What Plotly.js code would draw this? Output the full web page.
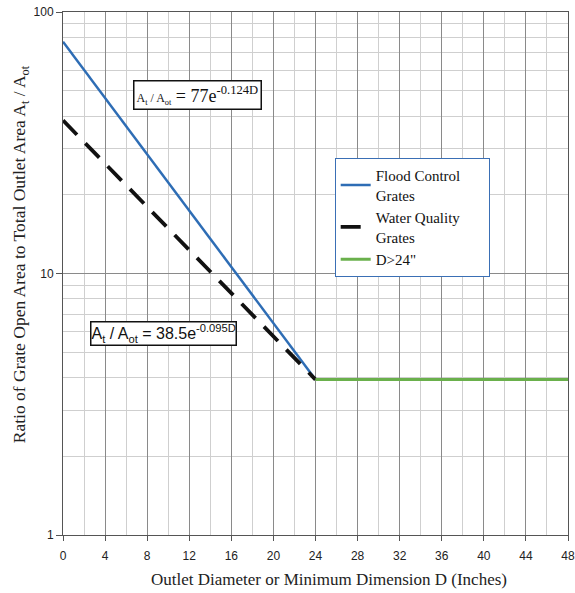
<!DOCTYPE html>
<html><head><meta charset="utf-8">
<script src="https://cdn.plot.ly/plotly-3.0.1.min.js"></script>
<style>html,body{margin:0;padding:0;background:#fff}#chart{width:575px;height:593px}</style>
</head><body><div id="chart"></div>
<script>
// Data
const floodX = [0, 24];
const floodY = [77, 3.93];
const waterX = [0, 24];
const waterY = [38.5, 3.93];
const bigX = [24, 48];
const bigY = [3.93, 3.93];
const xTicks = [0,4,8,12,16,20,24,28,32,36,40,44,48];

const serif = 'Liberation Serif, Times New Roman, serif';
const sans = 'Liberation Sans, Arial, sans-serif';
const NB = '\u00A0';

const traces = [
  {x: floodX, y: floodY, mode:'lines', name:'Flood Control' + NB.repeat(6) + '<br>Grates',
   line:{color:'#2e6db5', width:2.5}},
  {x: waterX, y: waterY, mode:'lines', name:'Water Quality<br>Grates',
   line:{color:'#111', width:3.8, dash:'20px,12px'}},
  {x: bigX, y: bigY, mode:'lines', name:'D>24"',
   line:{color:'#6ab04c', width:3}}
];

const layout = {
  width:575, height:593,
  margin:{l:63, r:7, t:12, b:58},
  paper_bgcolor:'#fff', plot_bgcolor:'#fff',
  showlegend:true,
  legend:{x:0.538, y:0.721, xanchor:'left', yanchor:'top',
    bordercolor:'#3a6fb5', borderwidth:1, bgcolor:'#fff',
    font:{family:serif, size:15, color:'#111'}, tracegroupgap:0},
  xaxis:{range:[0,48], tickvals:xTicks, ticks:'outside', ticklen:5, tickcolor:'#555',
    ticklabelstandoff:5,
    showgrid:true, gridcolor:'#8a8a8a', gridwidth:1,
    minor:{dtick:2, tick0:0, showgrid:true, gridcolor:'#cfcfcf', gridwidth:1},
    showline:true, linecolor:'#555', mirror:true, zeroline:false,
    tickfont:{family:sans, size:12, color:'#222'}},
  yaxis:{type:'log', range:[0,2], dtick:1, ticks:'outside', ticklen:6, tickcolor:'#555',
    showgrid:true, gridcolor:'#8a8a8a', gridwidth:1,
    minor:{dtick:'D1', showgrid:true, gridcolor:'#cfcfcf', gridwidth:1},
    showline:true, linecolor:'#555', mirror:true, zeroline:false,
    tickfont:{family:sans, size:12, color:'#222'}},
  annotations:[
    {x:12.8, y:1.684, xref:'x', yref:'y', showarrow:false,
     text:'<span style="font-size:12px">A<sub>t</sub> / A<sub>ot</sub></span> = 77e<sup>-0.124D</sup>',
     font:{family:serif, size:18, color:'#111'}, bordercolor:'#111', borderwidth:1.5, bgcolor:'#fff', borderpad:2},
    {x:9.59, y:0.769, xref:'x', yref:'y', showarrow:false,
     text:'A<sub>t</sub> / A<sub>ot</sub> = 38.5e<sup>-0.095D</sup>',
     font:{family:sans, size:16, color:'#111'}, bordercolor:'#111', borderwidth:1.5, bgcolor:'#fff', borderpad:0},
    {x:-0.085, y:0.537, xref:'paper', yref:'paper', xanchor:'center', yanchor:'middle',
     showarrow:false, textangle:-90,
     text:'Ratio of Grate Open Area to Total Outlet Area A<sub>t</sub> / A<sub>ot</sub>',
     font:{family:serif, size:17.5, color:'#222'}},
    {x:0.526, y:-0.086, xref:'paper', yref:'paper', xanchor:'center', yanchor:'middle',
     showarrow:false,
     text:'Outlet Diameter or Minimum Dimension D (Inches)',
     font:{family:serif, size:17, color:'#222'}}
  ]
};
Plotly.newPlot('chart', traces, layout, {displayModeBar:false, staticPlot:true});
</script></body></html>
